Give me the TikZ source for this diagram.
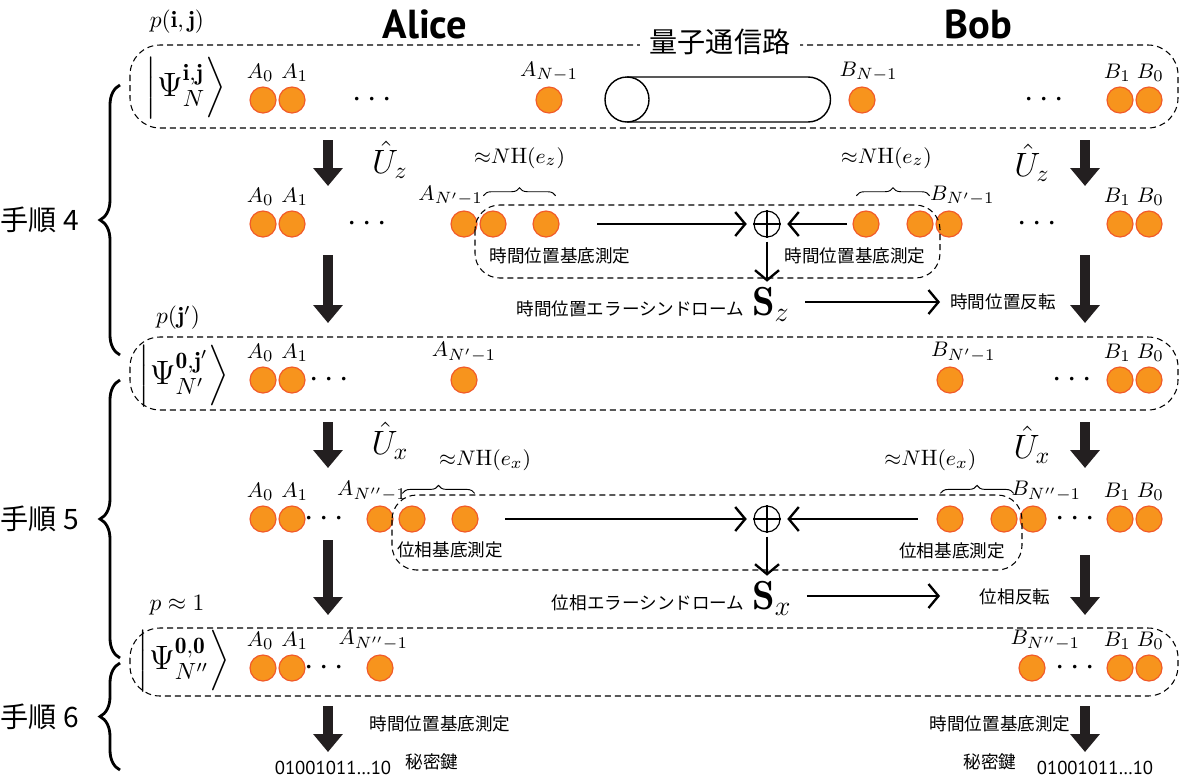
\documentclass[tikz,border=0pt]{standalone}
\usepackage{amssymb}
\usepackage{amsmath}
\usepackage{fontspec}
\setsansfont{PT Sans}
\newfontfamily\jp{Noto Sans CJK JP}
\usetikzlibrary{positioning,arrows.meta,decorations.pathreplacing}

\definecolor{qubit}{HTML}{F7941D}
\definecolor{qubitedge}{HTML}{F15A29}
\definecolor{ink}{HTML}{231F20}

\newcommand{\jps}{\jp\fontsize{7.5}{9}\selectfont}

\begin{document}
\begin{tikzpicture}[x=0.15mm, y=-0.15mm,
            q/.style={circle, draw=qubitedge, fill=qubit, line width=0.5pt, inner sep=0, minimum size=3.9mm},
            lbl/.style={inner sep=0, font=\fontsize{9.5}{11}\selectfont},
            every label/.style={lbl},
            label distance=0.6mm,
            dots/.style={font=\Large},
            jtext/.style={inner sep=1pt, font=\jps},
            grp/.style={draw, line width=0.45pt, dash pattern=on 0.9mm off 0.6mm, rounded corners=4.5mm},
            meas/.style={grp, rounded corners=3.7mm},
            xor/.style={draw, circle, line width=0.5pt, inner sep=0, minimum size=3.9mm},
            big/.style={draw=ink, line width=1.5mm, -{Triangle[length=2.7mm, width=4.3mm]}},
            link/.style={line width=1pt, -{Straight Barb[length=1.5mm, width=3.6mm]}},
            stage/.style={decorate, decoration={brace, amplitude=3mm}, line width=1.2pt},
            few/.style={decorate, decoration={brace, amplitude=1.2mm}, line width=0.4pt},
            node distance=4.35mm]
        \useasboundingbox (0,0) rectangle (1192,780);

        \node[font=\sffamily\bfseries\LARGE] (alice) at (425,24) {Alice};
        \node[font=\sffamily\bfseries\LARGE] (bob) at (978,24) {Bob};

        % shared state before the protocol
        \node (p1) at (177,22) {$p(\mathbf{i},\mathbf{j})$};
        \draw[grp] (130,45) rectangle (1178,128);
        \node[fill=white, inner xsep=4pt, inner ysep=1pt, font=\jp\large] (chan) at (720,42) {量子通信路};
        \node (psi1) at (186,88) {\Large$\left|\Psi^{\mathbf{i},\mathbf{j}}_{N}\right\rangle$};
        \draw[line width=0.6pt] (627,77) -- (808,77) arc (-90:90:22.5) -- (627,122);
        \draw[line width=0.6pt] (627,99.5) ellipse (22 and 22.5);
        \node[q, label={[xshift=-0.4mm]above:$A_0$}] (a0) at (263,100) {};
        \node[q, label={[xshift=0.4mm]above:$A_1$}] (a1) [right of=a0] {};
        \node[dots] (adots) at (375,100) {$\cdots$};
        \node[q, label=above:$A_{N-1}$] (an) at (549,100) {};
        \node[q, label={[xshift=1mm]above:$B_{N-1}$}] (bn) at (862,100) {};
        \node[dots] (bdots) at (1047,100) {$\cdots$};
        \node[q, label={[xshift=-0.4mm]above:$B_1$}] (b1) at (1120,100) {};
        \node[q, label={[xshift=0.2mm]above:$B_0$}] (b0) [right of=b1] {};

        \foreach \n/\x/\t/\b in {l1/328/140/186, r1/1085/140/186, l2/328/255/323, r2/1085/255/323,
                l3/328/422/468, r3/1085/422/468, l4/328/540/615, r4/1085/555/615,
                l5/328/706/752, r5/1085/706/752} {
            \coordinate (\n s) at (\x,\t);
            \coordinate (\n e) at (\x,\b);
            \draw[big] (\n s) -- (\n e);
        }

        % time basis
        \node (uz1) at (390,160) {\Large$\hat{U}_z$};
        \node (uz2) at (1032,163) {\Large$\hat{U}_z$};
        \node[q, label={[xshift=-0.4mm]above:$A_0$}] (c0) at (263,224) {};
        \node[q, label={[xshift=0.4mm]above:$A_1$}] (c1) [right of=c0] {};
        \node[dots] (cdots) at (370,224) {$\cdots$};
        \node[q, label={[xshift=-2mm]above:$A_{N'-1}$}] (cn) at (464,224) {};
        \node[q] (cm1) [right of=cn] {};
        \node[q] (cm2) at (546,224) {};
        \node[q] (dm1) at (866,224) {};
        \node[q] (dm2) at (920,224) {};
        \node[q, label={[xshift=2mm]above:$B_{N'-1}$}] (dn) [right of=dm2] {};
        \node[dots] (ddots) at (1040,224) {$\cdots$};
        \node[q, label={[xshift=-0.4mm]above:$B_1$}] (d1) at (1120,224) {};
        \node[q, label={[xshift=0.2mm]above:$B_0$}] (d0) [right of=d1] {};
        \draw[few] ([yshift=2.8mm]cm1.north west) -- ([yshift=2.8mm]cm2.north east)
            node[midway, above=4mm, lbl] (nhz1) {${\approx}N\mathrm{H}(e_z)$};
        \draw[few] ([yshift=2.8mm]dm1.north west) -- ([yshift=2.8mm]dm2.north east)
            node[midway, above=4mm, lbl, xshift=-1mm] (nhz2) {${\approx}N\mathrm{H}(e_z)$};
        \draw[meas] (475,205) rectangle (940,278);
        \node[jtext] (mz1) at (560,256) {時間位置基底測定};
        \node[jtext] (mz2) at (855,256) {時間位置基底測定};
        \node[xor] (xz) at (767,224) {};
        \draw[line width=0.5pt] (xz.north) -- (xz.south) (xz.west) -- (xz.east);
        \coordinate (az) at (597,224);
        \draw[link, shorten >=1mm] (az) -- (xz);
        \draw[link, shorten >=1mm] ([xshift=-0.8mm]dm1.west) -- (xz);
        \node[inner sep=2pt] (sz) at (771,304) {\LARGE$\mathbf{S}_z$};
        \node[jtext, anchor=base east] (synz) at (sz.base west) {時間位置エラーシンドローム};
        \draw[link, shorten <=0.6mm] (xz) -- (xz |- sz.north);
        \node[jtext] (flipz) at (1003,302) {時間位置反転};
        \coordinate (tz) at (940,302);
        \draw[link] ([xshift=1.5mm]sz.east |- tz) -- (tz);

        % after the time-basis correction
        \node (p2) at (178,318) {$p(\mathbf{j}')$};
        \draw[grp] (130,337) rectangle (1178,410);
        \node (psi2) at (184,376) {\Large$\left|\Psi^{\mathbf{0},\mathbf{j}'}_{N'}\right\rangle$};
        \node[q, label={[xshift=-0.4mm]above:$A_0$}] (e0) at (263,380) {};
        \node[q, label={[xshift=0.4mm]above:$A_1$}] (e1) [right of=e0] {};
        \node[dots] (edots) at (332,380) {$\cdots$};
        \node[q, label=above:$A_{N'-1}$] (en) at (464,380) {};
        \node[q, label={[xshift=2mm]above:$B_{N'-1}$}] (fn) at (950,380) {};
        \node[dots] (fdots) at (1075,380) {$\cdots$};
        \node[q, label={[xshift=-0.4mm]above:$B_1$}] (f1) at (1120,380) {};
        \node[q, label={[xshift=0.2mm]above:$B_0$}] (f0) [right of=f1] {};

        % phase basis
        \node (ux1) at (390,441) {\Large$\hat{U}_x$};
        \node (ux2) at (1032,445) {\Large$\hat{U}_x$};
        \node[q, label={[xshift=-0.4mm]above:$A_0$}] (g0) at (263,519) {};
        \node[q, label={[xshift=0.4mm]above:$A_1$}] (g1) [right of=g0] {};
        \node[dots] (gdots) at (327,519) {$\cdots$};
        \node[q, label={[xshift=-1.2mm]above:$A_{N''-1}$}] (gn) at (380,519) {};
        \node[q] (gm1) at (412,519) {};
        \node[q] (gm2) at (465,519) {};
        \node[q] (hm1) at (950,519) {};
        \node[q] (hm2) at (1004,519) {};
        \node[q, label={[xshift=2mm]above:$B_{N''-1}$}] (hn) [right of=hm2] {};
        \node[dots] (hdots) at (1078,519) {$\cdots$};
        \node[q, label={[xshift=-0.4mm]above:$B_1$}] (h1) at (1120,519) {};
        \node[q, label={[xshift=0.2mm]above:$B_0$}] (h0) [right of=h1] {};
        \draw[few] ([yshift=2.4mm]gm1.north west) -- ([yshift=2.4mm]gm2.north east)
            node[midway, above=3.3mm, lbl, xshift=7mm] (nhx1) {${\approx}N\mathrm{H}(e_x)$};
        \draw[few] ([yshift=2.4mm]hm1.north west) -- ([yshift=2.4mm]hm2.north east)
            node[midway, above=3.3mm, lbl, xshift=-7mm] (nhx2) {${\approx}N\mathrm{H}(e_x)$};
        \draw[meas] (392,495) rectangle (1022,570);
        \node[jtext] (mx1) at (450,550) {位相基底測定};
        \node[jtext] (mx2) at (952,551) {位相基底測定};
        \node[xor] (xx) at (767,519) {};
        \draw[line width=0.5pt] (xx.north) -- (xx.south) (xx.west) -- (xx.east);
        \coordinate (ax) at (505,519);
        \draw[link, shorten >=1mm] (ax) -- (xx);
        \draw[link, shorten >=1mm] ([xshift=-2.8mm]hm1.west) -- (xx);
        \node[inner sep=2pt] (sx) at (772,598) {\LARGE$\mathbf{S}_x$};
        \node[jtext, anchor=base east] (synx) at (sx.base west) {位相エラーシンドローム};
        \draw[link, shorten <=0.6mm] (xx) -- (xx |- sx.north);
        \node[jtext] (flipx) at (1015,597) {位相反転};
        \coordinate (tx) at (940,596);
        \draw[link] ([xshift=1.5mm]sx.east |- tx) -- (tx);

        % after both corrections
        \node (p3) at (177,605) {$p\approx 1$};
        \draw[grp] (130,628) rectangle (1178,696);
        \node (psi3) at (184,661) {\Large$\left|\Psi^{\mathbf{0},\mathbf{0}}_{N''}\right\rangle$};
        \node[q, label={[xshift=-0.4mm]above:$A_0$}] (k0) at (263,668) {};
        \node[q, label={[xshift=0.4mm]above:$A_1$}] (k1) [right of=k0] {};
        \node[dots] (kdots) at (327,668) {$\cdots$};
        \node[q, label={[xshift=-1mm]above:$A_{N''-1}$}] (kn) at (380,668) {};
        \node[q, label={[xshift=2mm]above:$B_{N''-1}$}] (ln) at (1032,668) {};
        \node[dots] (ldots) at (1078,668) {$\cdots$};
        \node[q, label={[xshift=-0.4mm]above:$B_1$}] (l1) at (1120,668) {};
        \node[q, label={[xshift=0.2mm]above:$B_0$}] (l0) [right of=l1] {};

        % key
        \node[jtext] (mk1) at (440,724) {時間位置基底測定};
        \node[jtext] (key1) at (432,762) {秘密鍵};
        \node[font=\sffamily\footnotesize] (bits1) at (333,768) {01001011…10};
        \node[jtext] (mk2) at (1000,724) {時間位置基底測定};
        \node[jtext] (key2) at (990,762) {秘密鍵};
        \node[font=\sffamily\footnotesize] (bits2) at (1095,768) {01001011…10};

        \draw[stage] (120,355) -- (120,85) node[midway, left=4.8mm, font=\jp\large] (step4) {手順 4};
        \draw[stage] (120,658) -- (120,380) node[midway, left=4.8mm, font=\jp\large] (step5) {手順 5};
        \draw[stage] (120,770) -- (120,663) node[midway, left=4.8mm, font=\jp\large] (step6) {手順 6};
    \end{tikzpicture}
\end{document}
